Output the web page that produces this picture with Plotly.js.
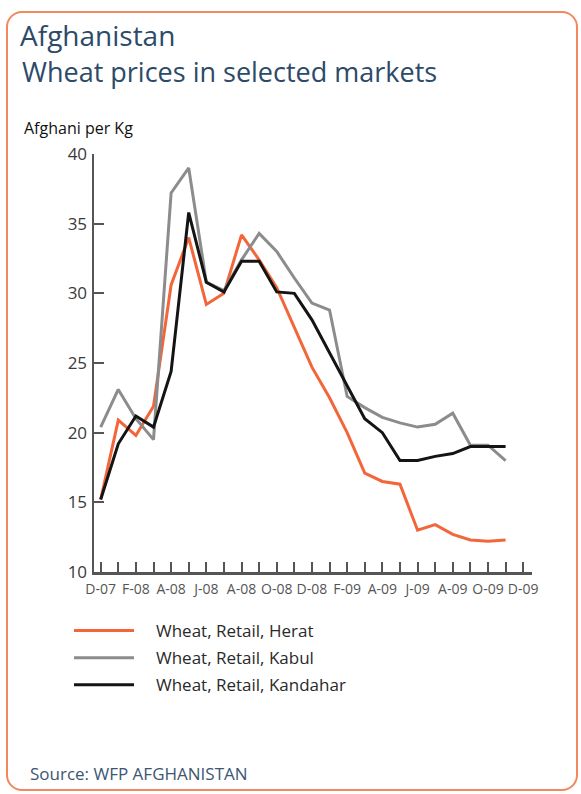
<!DOCTYPE html>
<html>
<head>
<meta charset="utf-8">
<script src="https://cdn.plot.ly/plotly-3.0.1.min.js"></script>
<style>
  html, body { margin: 0; padding: 0; background: #ffffff; }
  #wrap { position: relative; width: 581px; height: 794px; }
  #chart { position: absolute; left: 0; top: 0; width: 581px; height: 794px; }
  #frame { position: absolute; left: 6px; top: 11px; width: 568px; height: 776px;
           border: 2.5px solid #f3875f; border-radius: 16px; pointer-events: none; }
</style>
</head>
<body>
<div id="wrap">
  <div id="chart"></div>
  <div id="frame"></div>
</div>
<script>
// Months Dec-2007 .. Dec-2009 (index 0..24); data runs Dec-07 .. Nov-09
const monthIndex = [0,1,2,3,4,5,6,7,8,9,10,11,12,13,14,15,16,17,18,19,20,21,22,23];
const tickPositions = [0,1,2,3,4,5,6,7,8,9,10,11,12,13,14,15,16,17,18,19,20,21,22,23,24];
const tickLabels = ["D-07","","F-08","","A-08","","J-08","","A-08","","O-08","","D-08","",
                    "F-09","","A-09","","J-09","","A-09","","O-09","","D-09"];

const herat    = [15.2, 20.9, 19.8, 21.9, 30.6, 34.0, 29.2, 30.0, 34.2, 32.4, 30.4, 27.6,
                  24.7, 22.5, 20.0, 17.1, 16.5, 16.3, 13.0, 13.4, 12.7, 12.3, 12.2, 12.3];
const kabul    = [20.4, 23.1, 21.0, 19.5, 37.2, 39.0, 30.8, 30.2, 32.4, 34.3, 33.0, 31.1,
                  29.3, 28.8, 22.6, 21.8, 21.1, 20.7, 20.4, 20.6, 21.4, 19.1, 19.1, 18.0];
const kandahar = [15.2, 19.2, 21.2, 20.4, 24.4, 35.8, 30.8, 30.1, 32.3, 32.3, 30.1, 30.0,
                  28.1, 25.7, 23.4, 21.0, 20.0, 18.0, 18.0, 18.3, 18.5, 19.0, 19.0, 19.0];

const seriesNames = ["Wheat, Retail, Herat", "Wheat, Retail, Kabul", "Wheat, Retail, Kandahar"];
const yTicks = [10, 15, 20, 25, 30, 35, 40];

const titleLine1 = "Afghanistan";
const titleLine2 = "Wheat prices in selected markets";
const yUnit = "Afghani per Kg";
const sourceText = "Source: WFP AFGHANISTAN";

// plot area in pixels
const L = 94, R = 532, T = 154, B = 572, W = 581, H = 794;
const px = x => (x - L) / (R - L);
const py = y => (B - y) / (B - T);

const font = "'Open Sans', 'Noto Sans', sans-serif";
const pad = "\u2002\u2002";

const traces = [
  {x: monthIndex, y: herat, name: pad + seriesNames[0], legendgroup: "a",
   mode: "lines", line: {color: "#f2663a", width: 3}},
  {x: monthIndex, y: kabul, name: pad + seriesNames[1], legendgroup: "b",
   mode: "lines", line: {color: "#8c8c8c", width: 3}},
  {x: monthIndex, y: kandahar, name: pad + seriesNames[2], legendgroup: "c",
   mode: "lines", line: {color: "#141414", width: 3}}
];

const layout = {
  width: W, height: H,
  margin: {l: L, r: W - R, t: T, b: H - B, pad: 0},
  paper_bgcolor: "#ffffff", plot_bgcolor: "#ffffff",
  font: {family: font, color: "#333333"},
  showlegend: true,
  legend: {
    x: px(69), y: py(613), xanchor: "left", yanchor: "top",
    font: {size: 17, color: "#2a2a2a", family: font},
    traceorder: "grouped", tracegroupgap: 2, itemwidth: 60,
    bgcolor: "rgba(0,0,0,0)"
  },
  xaxis: {
    range: [-0.38, 24.5], tickmode: "array", tickvals: tickPositions, ticktext: tickLabels,
    showgrid: false, zeroline: false, showline: true, linecolor: "#555555", linewidth: 2.5,
    ticks: "inside", ticklen: 10, tickwidth: 2, tickcolor: "#555555",
    tickfont: {size: 14, color: "#555555", family: font}, tickangle: 0,
    ticklabelstandoff: 3, fixedrange: true
  },
  yaxis: {
    range: [10, 40], tickmode: "array", tickvals: yTicks,
    showgrid: false, zeroline: false, showline: true, linecolor: "#555555", linewidth: 2.5,
    ticks: "inside", ticklen: 10, tickwidth: 2, tickcolor: "#555555",
    tickfont: {size: 17, color: "#3a3a3a", family: font}, ticklabelstandoff: 1, fixedrange: true
  },
  title: {
    text: titleLine1, x: 20 / W, xref: "container", xanchor: "left",
    y: 1 - 36 / H, yref: "container", yanchor: "middle",
    font: {size: 28, color: "#2d4a68", family: font}
  },
  annotations: [
    {text: titleLine2, xref: "paper", yref: "paper", x: px(20), y: py(72),
     xanchor: "left", yanchor: "middle", showarrow: false,
     font: {size: 27, color: "#2d4a68", family: font}},
    {text: yUnit, xref: "paper", yref: "paper", x: px(22), y: py(128),
     xanchor: "left", yanchor: "middle", showarrow: false,
     font: {size: 16, color: "#111111", family: font}},
    {text: sourceText, xref: "paper", yref: "paper", x: px(28), y: py(773),
     xanchor: "left", yanchor: "middle", showarrow: false,
     font: {size: 17, color: "#3d5672", family: font}}
  ]
};

Plotly.newPlot("chart", traces, layout, {staticPlot: true, displayModeBar: false});
</script>
</body>
</html>
